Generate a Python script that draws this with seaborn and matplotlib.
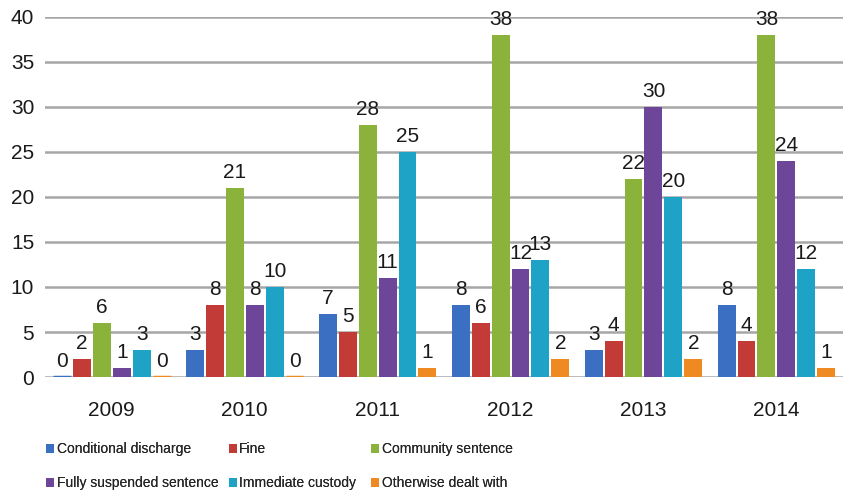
import matplotlib
matplotlib.use("Agg")
import matplotlib.pyplot as plt
import seaborn as sns
import pandas as pd

years = ["2009", "2010", "2011", "2012", "2013", "2014"]
categories = ["Conditional discharge", "Fine", "Community sentence",
              "Fully suspended sentence", "Immediate custody", "Otherwise dealt with"]
conditional_discharge = [0, 3, 7, 8, 3, 8]
fine = [2, 8, 5, 6, 4, 4]
community_sentence = [6, 21, 28, 38, 22, 38]
fully_suspended = [1, 8, 11, 12, 30, 24]
immediate_custody = [3, 10, 25, 13, 20, 12]
otherwise_dealt = [0, 0, 1, 2, 2, 1]

series = [conditional_discharge, fine, community_sentence,
          fully_suspended, immediate_custody, otherwise_dealt]
colors = ["#3b6fc1", "#c33b37", "#8bb33c", "#6e4699", "#1ea2c6", "#ef8a22"]

rows = []
for cat, vals in zip(categories, series):
    for y, v in zip(years, vals):
        rows.append({"Year": y, "Category": cat, "Value": v})
df = pd.DataFrame(rows)

sns.set_theme(style="white")
plt.rcParams["font.family"] = ["Liberation Sans", "DejaVu Sans"]

fig = plt.figure(figsize=(8.54, 4.97), dpi=100)
ax = fig.add_axes([0.053, 0.2414, 0.934, 0.7246])

sns.barplot(data=df, x="Year", y="Value", hue="Category", hue_order=categories,
            palette=colors, width=0.9, gap=0.1, ax=ax, legend=True,
            edgecolor="none", saturation=1)

# make zero-height bars visible as thin discs like the reference
for cont, col in zip(ax.containers, colors):
    for p, v in zip(cont.patches, cont.datavalues):
        if v == 0:
            p.set_edgecolor(col)
            p.set_linewidth(2.5)

ax.set_ylim(0, 40)
ax.set_xlim(-0.5, 5.5)
ax.set_yticks(range(0, 41, 5))
ax.yaxis.grid(True, color="#a6a6a6", linewidth=1.8)
ax.set_axisbelow(True)
for s in ax.spines.values():
    s.set_visible(False)
ax.set_xlabel("")
ax.set_ylabel("")
ax.tick_params(axis="y", labelsize=15, pad=8, length=0)
ax.tick_params(axis="x", labelsize=15, pad=17, length=0)
for lbl in ax.get_yticklabels() + ax.get_xticklabels():
    lbl.set_color("#1a1a1a")

for cont in ax.containers:
    ax.bar_label(cont, labels=[f"{int(v)}" for v in cont.datavalues],
                 padding=4, fontsize=15, color="#1a1a1a")

handles, labels = ax.get_legend_handles_labels()
ax.legend_.remove()
col_x = [0.054, 0.268, 0.435]
for i, x in enumerate(col_x):
    leg = fig.legend([handles[i], handles[i + 3]], [labels[i], labels[i + 3]],
                     loc="upper left", bbox_to_anchor=(x, 0.11), ncol=1,
                     frameon=False, fontsize=10, handlelength=0.55,
                     handleheight=0.7, handletextpad=0.2, labelspacing=1.45,
                     borderpad=0, borderaxespad=0)
    fig.add_artist(leg)

fig.savefig("out.png", dpi=100)
